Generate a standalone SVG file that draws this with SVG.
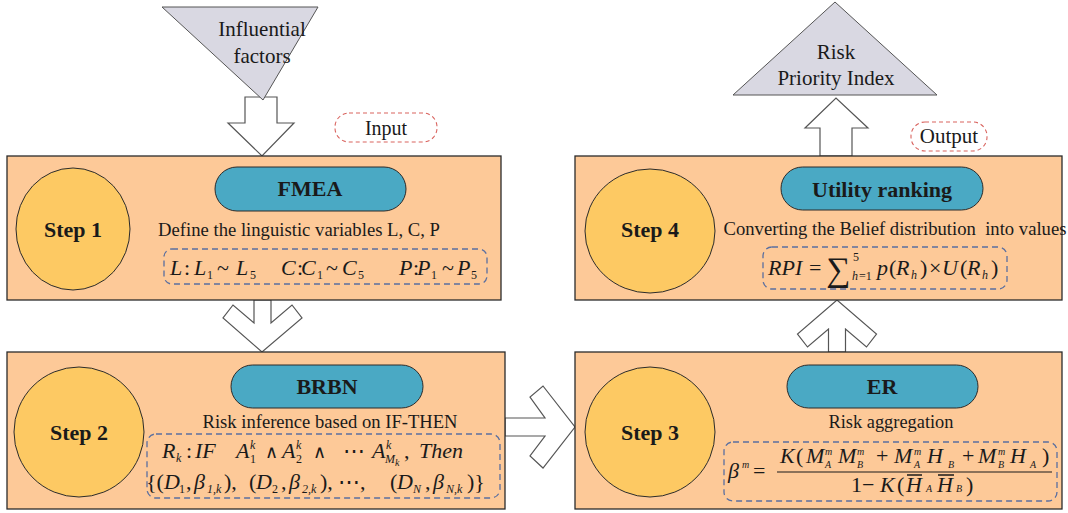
<svg xmlns="http://www.w3.org/2000/svg" width="1068" height="513" viewBox="0 0 1068 513">
<style>
text{font-family:"Liberation Serif","Tinos","Times New Roman","DejaVu Serif",serif;fill:#1a1a1a}
.box{fill:#fdc998;stroke:#2b2b2b;stroke-width:1.3}
.circ{fill:#fdc963;stroke:#2b2b2b;stroke-width:1}
.pill{fill:#4aa9c4;stroke:#2b2b2b;stroke-width:1}
.tri{fill:#d9d8e2;stroke:#555;stroke-width:1}
.arrow{fill:#fff;stroke:#555;stroke-width:1.2;stroke-linejoin:miter}
.dashb{fill:none;stroke:#5a6fa0;stroke-width:1.3;stroke-dasharray:6 4}
.dashr{fill:#fff;stroke:#d9645f;stroke-width:1.1;stroke-dasharray:4 3}
.step{font-size:22px;font-weight:bold;text-anchor:middle}
.ptxt{font-size:22px;font-weight:bold;text-anchor:middle}
.body{font-size:18.5px;text-anchor:middle}
.lbl{font-size:21px;text-anchor:middle}
.f{font-size:22px;font-style:italic}
.u{font-style:normal}
.w{font-size:18px;font-style:normal}
.s{font-size:12px}
.ss{font-size:10px}
</style>

<g id="connectors">
<path class="arrow" d="M245,97 L277,97 L277,123 L294,123 L262,156 L228,123 L245,123 Z"/>
<path class="arrow" d="M820,156 L852,156 L852,128 L868,128 L836,98 L805,128 L820,128 Z"/>
<path class="arrow" d="M254,300 L254,323 L233,305 L223,318 L262,352 L302,318 L292,305 L271,323 L271,300 Z"/>
<path class="arrow" d="M505,418 L545,418 L530,397 L543,386 L575,427 L543,468 L530,456 L545,436 L505,436 Z"/>
<path class="arrow" d="M828.5,352 L828.5,329 L807.5,347 L797.5,334 L837,300 L876.5,334 L866.5,347 L845.5,329 L845.5,352 Z"/>
</g>

<g id="influential-factors">
<polygon class="tri" points="162,7 318,7 263,100"/>
<text class="lbl" x="262" y="36">Influential</text>
<text class="lbl" x="262" y="63">factors</text>
</g>

<g id="risk-priority-index">
<polygon class="tri" points="835,2 937,95 733,95"/>
<text class="lbl" x="836" y="59">Risk</text>
<text class="lbl" x="836" y="85">Priority Index</text>
</g>

<g id="input-label">
<rect class="dashr" x="335" y="113" width="102" height="29" rx="14"/>
<text class="lbl" x="386" y="135" style="font-size:20px">Input</text>
</g>

<g id="output-label">
<rect class="dashr" x="911" y="122" width="76" height="29" rx="14"/>
<text class="lbl" x="949" y="143" style="font-size:21px">Output</text>
</g>

<g id="step1">
<rect class="box" x="7" y="156" width="494" height="144"/>
<ellipse class="circ" cx="73" cy="229" rx="57" ry="61"/>
<text class="step" x="73" y="237">Step 1</text>
<rect class="pill" x="215" y="167" width="191" height="44" rx="22"/>
<text class="ptxt" x="310" y="196">FMEA</text>
<text class="body" x="299" y="236" textLength="282" lengthAdjust="spacingAndGlyphs">Define the linguistic variables L, C, P</text>
<rect class="dashb" x="164" y="249" width="323" height="35" rx="8"/>
<text class="f"><tspan x="170" y="275">L</tspan><tspan class="u" x="184" y="275">:</tspan><tspan x="194" y="275">L</tspan><tspan class="u s" x="207" y="279">1</tspan><tspan class="u" x="217" y="275">~</tspan><tspan x="236" y="275">L</tspan><tspan class="u s" x="250" y="279">5</tspan></text>
<text class="f"><tspan x="281" y="275">C</tspan><tspan class="u" x="297" y="275">:</tspan><tspan x="301" y="275">C</tspan><tspan class="u s" x="317" y="279">1</tspan><tspan class="u" x="326" y="275">~</tspan><tspan x="342" y="275">C</tspan><tspan class="u s" x="358" y="279">5</tspan></text>
<text class="f"><tspan x="399" y="275">P</tspan><tspan class="u" x="413" y="275">:</tspan><tspan x="417" y="275">P</tspan><tspan class="u s" x="431" y="279">1</tspan><tspan class="u" x="442" y="275">~</tspan><tspan x="457" y="275">P</tspan><tspan class="u s" x="471" y="279">5</tspan></text>
</g>

<g id="step2">
<rect class="box" x="7" y="352" width="498" height="157"/>
<circle class="circ" cx="79" cy="432" r="65"/>
<text class="step" x="79" y="440">Step 2</text>
<rect class="pill" x="231" y="365" width="192" height="43" rx="21.5"/>
<text class="ptxt" x="327" y="394">BRBN</text>
<text class="body" x="330" y="428" textLength="255" lengthAdjust="spacingAndGlyphs">Risk inference based on IF-THEN</text>
<rect class="dashb" x="147" y="434" width="353" height="64" rx="9"/>
<text class="f"><tspan x="162" y="458">R</tspan><tspan class="s" x="176" y="462">k</tspan><tspan class="u" x="186" y="458">:</tspan><tspan x="195" y="458">IF</tspan><tspan x="236" y="458">A</tspan><tspan class="s" x="250" y="449">k</tspan><tspan class="u s" x="250" y="463">1</tspan><tspan class="w" x="265" y="458">∧</tspan><tspan x="282" y="458">A</tspan><tspan class="s" x="296" y="449">k</tspan><tspan class="u s" x="296" y="463">2</tspan><tspan class="w" x="313" y="458">∧</tspan><tspan class="u" x="343" y="458">⋯</tspan><tspan x="372" y="458">A</tspan><tspan class="s" x="386" y="449">k</tspan><tspan class="s" x="385" y="463">M</tspan><tspan class="ss" x="395" y="466">k</tspan><tspan class="u" x="404" y="458">,</tspan><tspan x="419" y="458">Then</tspan></text>
<text class="f"><tspan class="u" x="146" y="489">{(</tspan><tspan x="164" y="489">D</tspan><tspan class="u s" x="179" y="493">1</tspan><tspan class="u" x="186" y="489">,</tspan><tspan x="194" y="489">β</tspan><tspan class="s" x="207" y="493">1,k</tspan><tspan class="u" x="224" y="489">),</tspan><tspan class="u" x="249" y="489">(</tspan><tspan x="256" y="489">D</tspan><tspan class="u s" x="272" y="493">2</tspan><tspan class="u" x="281" y="489">,</tspan><tspan x="289" y="489">β</tspan><tspan class="s" x="302" y="493">2,k</tspan><tspan class="u" x="320" y="489">),</tspan><tspan class="u" x="338" y="489">⋯,</tspan><tspan class="u" x="390" y="489">(</tspan><tspan x="397" y="489">D</tspan><tspan class="s" x="413" y="493">N</tspan><tspan class="u" x="425" y="489">,</tspan><tspan x="433" y="489">β</tspan><tspan class="s" x="446" y="493">N,k</tspan><tspan class="u" x="467" y="489">)}</tspan></text>
</g>

<g id="step3">
<rect class="box" x="575" y="352" width="487" height="157"/>
<circle class="circ" cx="650" cy="432" r="65"/>
<text class="step" x="650" y="440">Step 3</text>
<rect class="pill" x="787" y="365" width="191" height="43" rx="21.5"/>
<text class="ptxt" x="882" y="394">ER</text>
<text class="body" x="891" y="428" textLength="125" lengthAdjust="spacingAndGlyphs">Risk aggregation</text>
<rect class="dashb" x="724" y="442" width="333" height="59" rx="9"/>
<text class="f"><tspan x="728" y="478">β</tspan><tspan class="ss" x="742" y="468">m</tspan><tspan class="u" x="753" y="478">=</tspan></text>
<line x1="777" y1="472" x2="1052" y2="472" stroke="#1a1a1a" stroke-width="1.2"/>
<text class="f"><tspan x="780" y="463">K</tspan><tspan class="u" x="796" y="463">(</tspan><tspan x="806" y="463">M</tspan><tspan class="ss" x="825" y="455">m</tspan><tspan class="ss" x="825" y="468">A</tspan><tspan x="838" y="463">M</tspan><tspan class="ss" x="857" y="455">m</tspan><tspan class="ss" x="857" y="468">B</tspan><tspan class="u" x="876" y="463">+</tspan><tspan x="894" y="463">M</tspan><tspan class="ss" x="914" y="455">m</tspan><tspan class="ss" x="914" y="468">A</tspan><tspan x="927" y="463">H</tspan><tspan class="ss" x="948" y="468">B</tspan><tspan class="u" x="962" y="463">+</tspan><tspan x="978" y="463">M</tspan><tspan class="ss" x="998" y="455">m</tspan><tspan class="ss" x="998" y="468">B</tspan><tspan x="1010" y="463">H</tspan><tspan class="ss" x="1030" y="468">A</tspan><tspan class="u" x="1042" y="463">)</tspan></text>
<text class="f"><tspan class="u" x="851" y="492">1</tspan><tspan class="u" x="862" y="492">−</tspan><tspan x="880" y="492">K</tspan><tspan class="u" x="897" y="492">(</tspan><tspan x="906" y="492">H</tspan><tspan class="ss" x="926" y="492">A</tspan><tspan x="937" y="492">H</tspan><tspan class="ss" x="956" y="492">B</tspan><tspan class="u" x="966" y="492">)</tspan></text>
<line x1="907" y1="475" x2="922" y2="475" stroke="#1a1a1a" stroke-width="1.5"/>
<line x1="938" y1="475" x2="954" y2="475" stroke="#1a1a1a" stroke-width="1.5"/>
</g>

<g id="step4">
<rect class="box" x="575" y="156" width="487" height="144"/>
<ellipse class="circ" cx="650" cy="231" rx="65" ry="62"/>
<text class="step" x="650" y="237">Step 4</text>
<rect class="pill" x="781" y="167" width="202" height="43" rx="21.5"/>
<text class="ptxt" x="882" y="197">Utility ranking</text>
<text class="body" x="895" y="235" textLength="343" lengthAdjust="spacingAndGlyphs" xml:space="preserve">Converting the Belief distribution  into values</text>
<rect class="dashb" x="763" y="247" width="244" height="42" rx="9"/>
<text class="f"><tspan x="768" y="275">RPI</tspan><tspan class="u" x="809" y="275">=</tspan><tspan class="u" x="826" y="281" style="font-size:34px">∑</tspan><tspan class="u s" x="853" y="261">5</tspan><tspan class="s" x="852" y="280">h</tspan><tspan class="u s" x="859" y="280">=1</tspan><tspan x="877" y="275">p</tspan><tspan class="u" x="889" y="275">(</tspan><tspan x="896" y="275">R</tspan><tspan class="s" x="911" y="279">h</tspan><tspan class="u" x="920" y="275">)</tspan><tspan class="u" x="929" y="275">×</tspan><tspan x="942" y="275">U</tspan><tspan class="u" x="960" y="275">(</tspan><tspan x="967" y="275">R</tspan><tspan class="s" x="982" y="279">h</tspan><tspan class="u" x="991" y="275">)</tspan></text>
</g>
</svg>
